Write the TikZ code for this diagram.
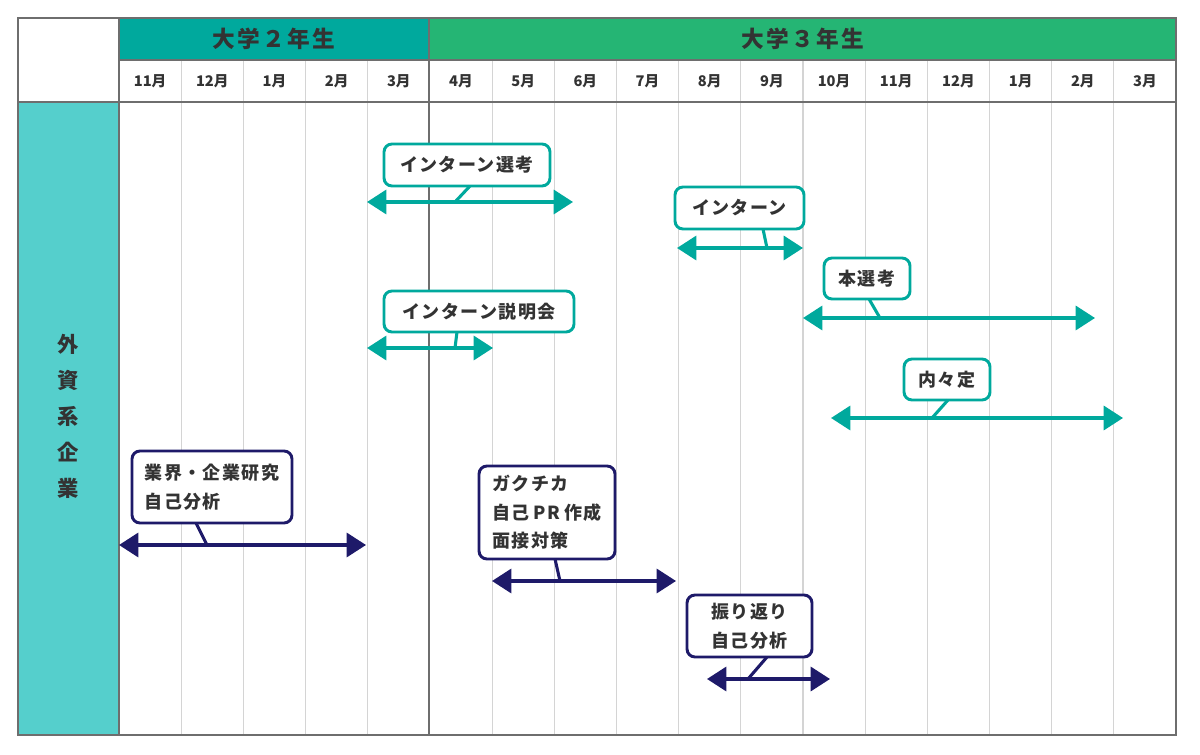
\documentclass[tikz,border=0pt]{standalone}
\usepackage{fontspec}
\setmainfont{Noto Sans CJK JP}
\usetikzlibrary{arrows.meta}
\definecolor{tealc}{HTML}{00A99D}
\definecolor{greenc}{HTML}{25B574}
\definecolor{cyanc}{HTML}{55CFCC}
\definecolor{navyc}{HTML}{1E1A69}
\definecolor{framec}{HTML}{6E6E6E}
\definecolor{gridc}{HTML}{D4D4D4}
\definecolor{textc}{HTML}{333333}
\tikzset{
  frameline/.style={draw=framec, line width=1.6pt},
  gridline/.style={draw=gridc, line width=0.8pt},
  headtxt/.style={text=textc, font=\bfseries\fontsize{17}{20}\selectfont\addfontfeature{LetterSpace=10}},
  monthtxt/.style={text=textc, font=\bfseries\fontsize{11}{12}\selectfont},
  sidetxt/.style={text=textc, align=center, font=\bfseries\fontsize{16}{27}\selectfont},
  tbox/.style={draw=tealc, line width=2.2pt, rounded corners=6pt, fill=white, text=textc,
    font=\bfseries\fontsize{13.5}{21.5}\selectfont\addfontfeature{LetterSpace=8}, align=left, inner sep=0pt},
  nbox/.style={tbox, draw=navyc},
  tarr/.style={draw=tealc, line width=2.5pt, {Triangle[length=14.5pt,width=18pt]}-{Triangle[length=14.5pt,width=18pt]}},
  narr/.style={tarr, draw=navyc, fill=navyc},
  tlink/.style={draw=tealc, line width=2.3pt},
  nlink/.style={draw=navyc, line width=2.3pt}
}
\begin{document}
\begin{tikzpicture}[x=0.75pt,y=-0.75pt]
\useasboundingbox (0,0) rectangle (1200,755);
\fill[white] (0,0) rectangle (1200,755);
% fills
\fill[tealc] (119,18) rectangle (429,60);
\fill[greenc] (429,18) rectangle (1176,60);
\fill[cyanc] (18,102) rectangle (119,735);
% grid lines
\foreach \i in {1,2,3,4,6,7,8,9,10,11,12,13,14,15,16}
  \draw[gridline] ({119+62.18*\i},60) -- ({119+62.18*\i},735);
% frame and main separators
\draw[frameline] (119,60) -- (1176,60);
\draw[frameline] (18,102) -- (1176,102);
\draw[frameline] (119,18) -- (119,735);
\draw[frameline] (429,18) -- (429,735);
\draw[frameline] (18,18) rectangle (1176,735);
% headers
\node[headtxt] (h2) at (274,39) {大学２年生};
\node[headtxt] (h3) at (802.5,39) {大学３年生};
\foreach \m [count=\i from 0] in {11,12,1,2,3,4,5,6,7,8,9,10,11,12,1,2,3}
  \node[monthtxt] (m\i) at ({119+62.18*(\i+0.5)},81) {{\m}月};
\node[sidetxt] (side) at (68.5,416) {外\\資\\系\\企\\業};
% 1 インターン選考
\node[tbox, minimum width=124.5pt, minimum height=31.5pt] (b1) at (467,165) {インターン選考};
\coordinate (s1) at (367,202); \coordinate (e1) at (573,202);
\coordinate (c1a) at (470,186); \coordinate (c1b) at (455,202);
\draw[tlink] (c1a) -- (c1b);
\draw[tarr] (s1) -- (e1);
% 2 インターン
\node[tbox, minimum width=96.75pt, minimum height=31.5pt] (b2) at (739.5,208) {インターン};
\coordinate (s2) at (677,248); \coordinate (e2) at (803,248);
\coordinate (c2a) at (763,229); \coordinate (c2b) at (767,248);
\draw[tlink] (c2a) -- (c2b);
\draw[tarr] (s2) -- (e2);
% 3 本選考
\node[tbox, minimum width=64.5pt, minimum height=30.75pt] (b3) at (867,278.5) {本選考};
\coordinate (s3) at (803,318); \coordinate (e3) at (1095,318);
\coordinate (c3a) at (869,299); \coordinate (c3b) at (880,318);
\draw[tlink] (c3a) -- (c3b);
\draw[tarr] (s3) -- (e3);
% 4 インターン説明会
\node[tbox, minimum width=142.5pt, minimum height=30.75pt] (b4) at (479,311.5) {インターン説明会};
\coordinate (s4) at (367,348); \coordinate (e4) at (493,348);
\coordinate (c4a) at (457,332); \coordinate (c4b) at (455,348);
\draw[tlink] (c4a) -- (c4b);
\draw[tarr] (s4) -- (e4);
% 5 内々定
\node[tbox, minimum width=64.5pt, minimum height=30.75pt] (b5) at (947,379.5) {内々定};
\coordinate (s5) at (831,418); \coordinate (e5) at (1123,418);
\coordinate (c5a) at (948,400); \coordinate (c5b) at (932,418);
\draw[tlink] (c5a) -- (c5b);
\draw[tarr] (s5) -- (e5);
% 6 業界・企業研究
\node[nbox, minimum width=120pt, minimum height=54pt] (b6) at (212,487) {業界・企業研究\\自己分析};
\coordinate (s6) at (119,545); \coordinate (e6) at (366,545);
\coordinate (c6a) at (196,523); \coordinate (c6b) at (207,545);
\draw[nlink] (c6a) -- (c6b);
\draw[narr] (s6) -- (e6);
% 7 ガクチカ
\node[nbox, minimum width=102pt, minimum height=69.75pt] (b7) at (547,512.5) {ガクチカ\\自己\hspace{3pt}PR\hspace{3pt}作成\\面接対策};
\coordinate (s7) at (492,581); \coordinate (e7) at (676,581);
\coordinate (c7a) at (555,559); \coordinate (c7b) at (560,581);
\draw[nlink] (c7a) -- (c7b);
\draw[narr] (s7) -- (e7);
% 8 振り返り
\node[nbox, minimum width=93.75pt, minimum height=46.5pt] (b8) at (749.5,626) {振り返り\\自己分析};
\coordinate (s8) at (707,679); \coordinate (e8) at (830,679);
\coordinate (c8a) at (767,657); \coordinate (c8b) at (748,679);
\draw[nlink] (c8a) -- (c8b);
\draw[narr] (s8) -- (e8);
\end{tikzpicture}
\end{document}
